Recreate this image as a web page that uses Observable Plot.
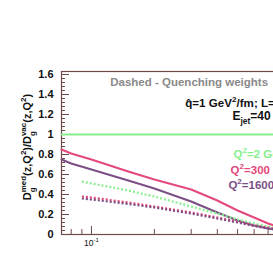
<!DOCTYPE html>
<html>
<head>
<meta charset="utf-8">
<script src="https://cdn.jsdelivr.net/npm/d3@7"></script>
<script src="https://cdn.jsdelivr.net/npm/@observablehq/plot@0.6"></script>
<style>
  html, body { margin: 0; padding: 0; background: #fff; overflow: hidden; width: 273px; height: 273px; }
  #chart { width: 273px; height: 273px; overflow: hidden; }
  #chart svg { display: block; max-width: none !important; width: 320px !important; height: 273px !important; }
</style>
</head>
<body>
<div id="chart"></div>
<script>
// ---- data ----
const zSolid = [0.0719, 0.08, 0.1, 0.15, 0.2, 0.3, 0.4, 0.5, 0.6, 0.7, 0.8];
const green2Solid  = [1, 1, 1, 1, 1, 1, 1, 1, 1, 1, 1];
const pink300Solid = [0.85, 0.81, 0.75, 0.63, 0.55, 0.45, 0.34, 0.24, 0.17, 0.11, 0.07];
const purple1600Solid = [0.75, 0.71, 0.65, 0.54, 0.46, 0.33, 0.22, 0.14, 0.09, 0.06, 0.04];

const zDashed = [0.09, 0.1, 0.15, 0.2, 0.3, 0.4, 0.5, 0.6, 0.7, 0.8];
const green2Dashed  = [0.53, 0.51, 0.44, 0.38, 0.28, 0.21, 0.15, 0.11, 0.08, 0.06];
const pink300Dashed = [0.38, 0.37, 0.32, 0.28, 0.22, 0.17, 0.13, 0.09, 0.07, 0.05];
const purple1600Dashed = [0.36, 0.35, 0.305, 0.27, 0.21, 0.16, 0.12, 0.085, 0.06, 0.045];

const seriesNames = ["Q^{2}=2 GeV^{2}", "Q^{2}=300 GeV^{2}", "Q^{2}=1600 GeV^{2}"];
const seriesColors = ["#86ef8c", "#e4497c", "#7b4f86"];

const yMajorTicks = [0, 0.2, 0.4, 0.6, 0.8, 1, 1.2, 1.4, 1.6];
const yTickLabels = ["0", "0.2", "0.4", "0.6", "0.8", "1", "1.2", "1.4", "1.6"];
const xMajorTicks = [0.1];
const xTickLabels = ["10^{-1}"];
const xMinorTicks = [0.08, 0.09, 0.2, 0.3, 0.4, 0.5, 0.6, 0.7, 0.8, 0.9];

const headerLines = ["Dashed - Quenching weights", "q\u0302=1 GeV^{2}/fm; L=5 fm", "E_{jet}=40 GeV"];

// ---- tables ----
const solid = [];
[green2Solid, pink300Solid, purple1600Solid].forEach((vals, i) =>
  vals.forEach((v, j) => solid.push({z: zSolid[j], v, s: seriesNames[i]})));
const dashed = [];
[green2Dashed, pink300Dashed, purple1600Dashed].forEach((vals, i) =>
  vals.forEach((v, j) => dashed.push({z: zDashed[j], v, s: seriesNames[i]})));

const yMinorTicks = d3.range(0, 1.62, 0.04).map(d => +d.toFixed(2));
const font = "Liberation Sans, Arial, Helvetica, sans-serif";
const frameColor = "#6e4a4a";

const plot = Plot.plot({
  width: 320,
  height: 273,
  marginLeft: 61,
  marginRight: 20,
  marginTop: 71,
  marginBottom: 39,
  style: {fontFamily: font, background: "white", overflow: "visible"},
  x: {type: "log", domain: [0.0719, 1], axis: null},
  y: {domain: [0, 1.63], axis: null},
  color: {domain: seriesNames, range: seriesColors},
  marks: [
    // inward ticks
    Plot.axisY(yMinorTicks, {tickSize: -4, tickFormat: () => "", label: null, stroke: frameColor, strokeWidth: 1}),
    Plot.axisY(yMajorTicks, {tickSize: -8, tickFormat: () => "", label: null, stroke: frameColor, strokeWidth: 1}),
    Plot.axisY(yMajorTicks, {tickSize: 0, tickPadding: 8, label: null, tickFormat: (d, i) => yTickLabels[i],
      fontSize: 11, fontWeight: "bold", fill: "#111"}),
    Plot.axisX(xMinorTicks, {anchor: "bottom", tickSize: -5, label: null, tickFormat: () => "", stroke: frameColor}),
    Plot.axisX(xMajorTicks, {anchor: "bottom", tickSize: -8, label: null, tickFormat: () => "", stroke: frameColor}),
    Plot.text(xMajorTicks, {x: d => d, frameAnchor: "bottom", dy: 11, text: (d, i) => xTickLabels[i],
      fontSize: 8.5, fill: "#111"}),
    Plot.frame({stroke: frameColor, strokeWidth: 1.2}),
    Plot.line(solid, {x: "z", y: "v", z: "s", stroke: "s", strokeWidth: 2}),
    Plot.line(dashed, {x: "z", y: "v", z: "s", stroke: "s", strokeWidth: 2.2,
      strokeDasharray: "2 2", strokeLinecap: "butt"}),
    // header text
    Plot.text([headerLines[0]], {x: 0.123, y: 1.52, text: d => d, textAnchor: "start",
      fill: "#8a8a8a", fontSize: 11.5, fontWeight: "bold"}),
    Plot.text([headerLines[1]], {x: 0.281, y: 1.31, text: d => d, textAnchor: "start",
      fill: "#111", fontSize: 11.6, fontWeight: "bold"}),
    Plot.text([headerLines[2]], {x: 0.473, y: 1.18, text: d => d, textAnchor: "start",
      fill: "#111", fontSize: 12, fontWeight: "bold"}),
    // legend
    Plot.text(seriesNames, {x: [0.478, 0.463, 0.452], y: [0.80, 0.64, 0.49], text: d => d,
      fill: d => d, textAnchor: "start", fontSize: 11.5, fontWeight: "bold"})
  ]
});

// convert _{..} and ^{..} markup into sub/superscript tspans
function richify(el) {
  const s = el.textContent;
  if (!/[_^]\{/.test(s)) return;
  el.textContent = "";
  const re = /([_^])\{([^}]*)\}|([^_^]+)/g;
  let m, shift = 0;
  while ((m = re.exec(s))) {
    const t = document.createElementNS("http://www.w3.org/2000/svg", "tspan");
    if (m[3] !== undefined) {
      t.textContent = m[3];
      t.setAttribute("dy", (-shift) + "em");
      shift = 0;
    } else {
      const target = m[1] === "^" ? -0.42 : 0.3;
      t.textContent = m[2];
      t.setAttribute("font-size", "70%");
      t.setAttribute("dy", ((target - shift) / 0.7).toFixed(3) + "em");
      shift = target;
    }
    el.appendChild(t);
  }
}
d3.select(plot).selectAll("text").each(function() { richify(this); });

// y axis title with stacked sub/superscripts
const svg = d3.select(plot);
const ttl = svg.append("text")
  .attr("transform", "translate(31,147) rotate(-90)")
  .attr("text-anchor", "middle")
  .attr("font-family", font)
  .attr("font-weight", "bold")
  .attr("font-size", 11)
  .attr("fill", "#111");
const parts = [
  ["D", 0, null], ["g", 4, "s"], ["med", -9, "p", -5], ["(z,Q", 5, null], ["2", -5, "p"], [")/D", 5, null],
  ["g", 4, "s"], ["vac", -9, "p", -5], ["(z,Q", 5, null], ["2", -5, "p"], [")", 5, null]
];
parts.forEach(([txt, dy, kind, dx]) => {
  const t = ttl.append("tspan").text(txt).attr("dy", dy);
  if (kind) t.attr("font-size", 8);
  if (dx) t.attr("dx", dx);
});

document.getElementById("chart").appendChild(plot);
</script>
</body>
</html>
